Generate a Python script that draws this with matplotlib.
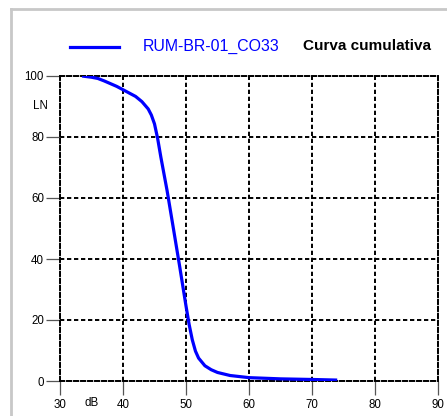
import matplotlib
matplotlib.use("Agg")
import matplotlib.pyplot as plt
from matplotlib.lines import Line2D

plt.rcParams['font.family'] = ['Liberation Sans', 'DejaVu Sans']

# Cumulative level distribution
db_levels = [33.5, 35, 36, 37, 38, 39, 40, 41, 42, 43, 44, 44.5, 45, 45.5, 46, 47, 48, 49, 50,
             50.5, 51, 51.5, 52, 53, 54, 55, 57, 60, 65, 70, 74]
ln_percent = [100, 99.6, 99.2, 98.4, 97.5, 96.6, 95.5, 94.4, 93.3, 91.6, 89.2, 87.2, 84.3, 79.5,
              73.5, 62.4, 50, 37.5, 24.6, 18.5, 13.5, 9.8, 7.5, 5.0, 3.7, 2.8, 1.8, 1.1, 0.7, 0.5, 0.3]

x_ticks = [30, 40, 50, 60, 70, 80, 90]
y_ticks = [0, 20, 40, 60, 80, 100]
series_name = "RUM-BR-01_CO33"
legend_title = "Curva cumulativa"

W, H = 447, 416
fig = plt.figure(figsize=(W / 100, H / 100), dpi=100)
ax = fig.add_axes([60 / W, 1 - 381 / H, 378 / W, 305 / H])

ax.plot(db_levels, ln_percent, color='#0000ff', lw=2.3, solid_capstyle='butt',
        solid_joinstyle='round', zorder=3)

ax.set_xlim(30, 90)
ax.set_ylim(0, 100)
ax.set_xticks(x_ticks)
ax.set_yticks(y_ticks)
ax.tick_params(axis='both', direction='out', length=10, width=0.9, color='#555555',
               labelsize=8.3, pad=1.5)
ax.tick_params(axis='x', pad=3)

dash = (0, (2.2, 1.4))
ax.grid(True, color='black', lw=1.4, linestyle=dash)
for sp in ax.spines.values():
    sp.set_linestyle(dash)
    sp.set_linewidth(1.4)
    sp.set_color('black')

# axis unit labels
fig.text(92 / W, 1 - 403 / H, "dB", ha='center', va='center', fontsize=8.3)
fig.text(40 / W, 1 - 106 / H, "LN", ha='center', va='center', fontsize=8.3)

# legend row
fig.add_artist(Line2D([70 / W, 119 / W], [1 - 47 / H, 1 - 47 / H], color='#0000ff', lw=2.3))
fig.text(143 / W, 1 - 46 / H, series_name, color='#0000ff', fontsize=11.4, ha='left', va='center')
fig.text(303 / W, 1 - 46 / H, legend_title, color='black', fontsize=11.0, fontweight='bold',
         ha='left', va='center')

# outer panel frame
fig.add_artist(Line2D([11 / W, 1.0], [1 - 9 / H, 1 - 9 / H], color='#c8c8c8', lw=2))
fig.add_artist(Line2D([11 / W, 11 / W], [0, 1 - 9 / H], color='#c8c8c8', lw=2))

fig.savefig("out.png", dpi=100)
